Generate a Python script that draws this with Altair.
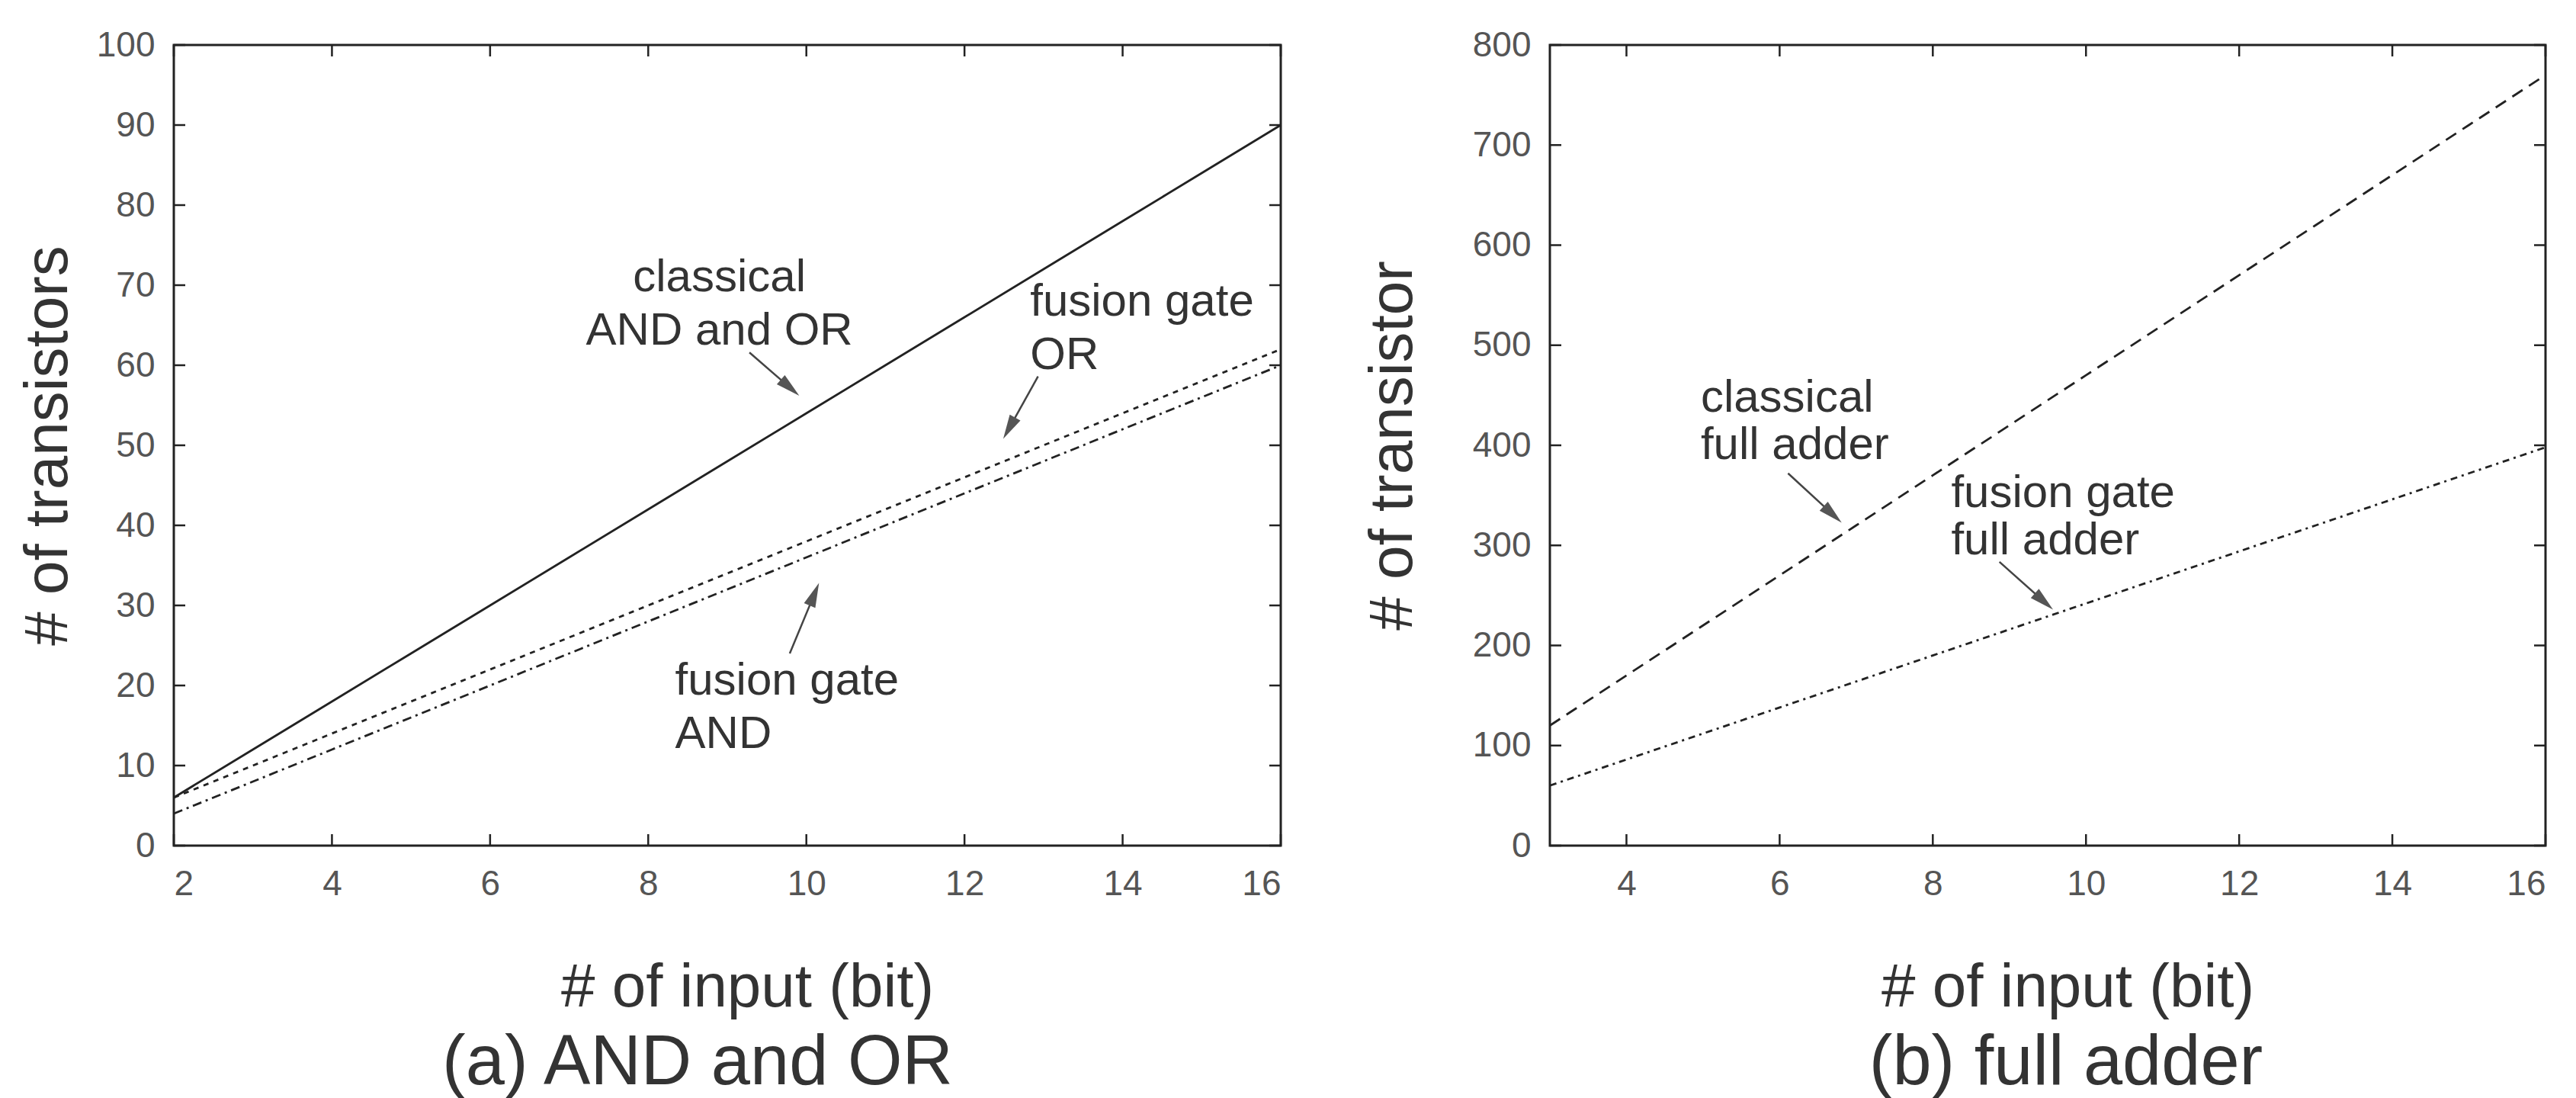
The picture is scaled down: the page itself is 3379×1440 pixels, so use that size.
import math
import altair as alt
import pandas as pd

# ---------------- data: panel (a) AND and OR ----------------
bits_a = [2, 3, 4, 5, 6, 7, 8, 9, 10, 11, 12, 13, 14, 15, 16]
classical_and_or = [6, 12, 18, 24, 30, 36, 42, 48, 54, 60, 66, 72, 78, 84, 90]
fusion_or = [6, 10, 14, 18, 22, 26, 30, 34, 38, 42, 46, 50, 54, 58, 62]
fusion_and = [4, 8, 12, 16, 20, 24, 28, 32, 36, 40, 44, 48, 52, 56, 60]

# ---------------- data: panel (b) full adder ----------------
bits_b = [3, 4, 5, 6, 7, 8, 9, 10, 11, 12, 13, 14, 15, 16]
classical_full_adder = [120, 170, 220, 270, 320, 370, 420, 470, 520, 570, 620, 670, 720, 770]
fusion_full_adder = [60, 86, 112, 138, 164, 190, 216, 242, 268, 294, 320, 346, 372, 398]

# ---------------- tick labels ----------------
xticks_a = [2, 4, 6, 8, 10, 12, 14, 16]
yticks_a = [0, 10, 20, 30, 40, 50, 60, 70, 80, 90, 100]
xticks_b = [4, 6, 8, 10, 12, 14, 16]
yticks_b = [0, 100, 200, 300, 400, 500, 600, 700, 800]

# ---------------- annotations (text, x, y of first line, align) ----------------
notes_a_text = ["classical\nAND and OR", "fusion gate\n\u00a0OR", "fusion gate\n\u00a0AND"]
notes_a_x = [8.9, 12.83, 8.34]
notes_a_y = [71.0, 67.9, 20.6]
notes_a_align = ["center", "left", "left"]
arrows_a = [(9.28, 61.6, 9.91, 56.2), (12.93, 58.6, 12.49, 50.8), (9.79, 24.0, 10.16, 32.8)]

notes_b_text = ["classical\nfull adder", "fusion gate\nfull adder"]
notes_b_x = [4.97, 8.24]
notes_b_y = [447, 351.7]
notes_b_align = ["left", "left"]
arrows_b = [(6.11, 372, 6.81, 322.7), (8.87, 283.5, 9.57, 235.8)]

FONT = "Liberation Sans"
H = 1050
W_A = 1452
W_B = 1306
TICK = 15
LINE_COLOR = "#222222"
TEXT_COLOR = "#333333"
LABEL_COLOR = "#555555"
HEAD_R = 16


def panel(width, xdom, ydom, xticks, yticks, series, notes, arrows, ytitle,
          ytitle_pad, subtitle, sub_dx, line_h):
    xs = alt.Scale(domain=xdom, nice=False, zero=False)
    ys = alt.Scale(domain=ydom, nice=False, zero=False)
    sx = width / (xdom[1] - xdom[0])
    sy = H / (ydom[1] - ydom[0])

    xaxis = alt.Axis(values=xticks, format="d", title="# of input (bit)", ticks=False,
                     domain=False, grid=False, labelFont=FONT, labelFontSize=46,
                     labelColor=LABEL_COLOR, labelPadding=28, titleFont=FONT,
                     titleFontSize=80, titleFontWeight="normal", titleColor=TEXT_COLOR,
                     titlePadding=74, titleX=width / 2 + 26)
    yaxis = alt.Axis(values=yticks, format="d", title=ytitle, ticks=False, domain=False,
                     grid=False, labelFont=FONT, labelFontSize=46, labelColor=LABEL_COLOR,
                     labelPadding=25, titleFont=FONT, titleFontSize=80,
                     titleFontWeight="normal", titleColor=TEXT_COLOR,
                     titlePadding=ytitle_pad)

    def X(field):
        return alt.X(field, scale=xs, axis=xaxis)

    def Y(field):
        return alt.Y(field, scale=ys, axis=yaxis)

    layers = []
    for xs_vals, ys_vals, dash in series:
        df = pd.DataFrame({"n": xs_vals, "v": ys_vals})
        kw = {"strokeDash": dash} if dash else {}
        layers.append(
            alt.Chart(df).mark_line(color=LINE_COLOR, strokeWidth=2.8, **kw).encode(
                x=X("n:Q"), y=Y("v:Q"))
        )

    # inward ticks on all four sides
    xt = pd.DataFrame({"t": xticks})
    yt = pd.DataFrame({"t": yticks})
    tick_style = dict(color=LINE_COLOR, strokeWidth=2.5)
    layers.append(alt.Chart(xt).mark_rule(**tick_style).encode(
        x=X("t:Q"), y=alt.value(H), y2=alt.value(H - TICK)))
    layers.append(alt.Chart(xt).mark_rule(**tick_style).encode(
        x=X("t:Q"), y=alt.value(0), y2=alt.value(TICK)))
    layers.append(alt.Chart(yt).mark_rule(**tick_style).encode(
        y=Y("t:Q"), x=alt.value(0), x2=alt.value(TICK)))
    layers.append(alt.Chart(yt).mark_rule(**tick_style).encode(
        y=Y("t:Q"), x=alt.value(width - TICK), x2=alt.value(width)))

    # annotation text
    texts, tx, ty, al = notes
    for align in ("left", "center"):
        rows = [(t, x, y) for t, x, y, a in zip(texts, tx, ty, al) if a == align]
        if not rows:
            continue
        df = pd.DataFrame(rows, columns=["label", "x", "y"])
        layers.append(alt.Chart(df).mark_text(
            font=FONT, fontSize=60, color=TEXT_COLOR, align=align, baseline="middle",
            lineBreak="\n", lineHeight=line_h
        ).encode(x=X("x:Q"), y=Y("y:Q"), text="label:N"))

    # arrows
    rows, heads = [], []
    for x1, y1, x2, y2 in arrows:
        dx = (x2 - x1) * sx
        dy = -(y2 - y1) * sy
        L = math.hypot(dx, dy)
        ux, uy = dx / L, dy / L
        ang = math.degrees(math.atan2(dx, -dy)) % 360
        cx = x2 - HEAD_R * ux / sx
        cy = y2 + HEAD_R * uy / sy
        rows.append({"x": x1, "y": y1, "x2": cx, "y2": cy})
        heads.append({"x": cx, "y": cy, "a": ang})
    layers.append(alt.Chart(pd.DataFrame(rows)).mark_rule(color="#444", strokeWidth=2.5).encode(
        x=X("x:Q"), y=Y("y:Q"), x2="x2:Q", y2="y2:Q"))
    layers.append(alt.Chart(pd.DataFrame(heads)).mark_point(
        shape="M0,-1L0.5,1L-0.5,1Z", filled=True, color="#555", opacity=1,
        size=(2 * HEAD_R) ** 2
    ).encode(x=X("x:Q"), y=Y("y:Q"), angle=alt.Angle("a:Q", scale=None)))

    return alt.layer(*layers).properties(
        width=width, height=H,
        title=alt.TitleParams(subtitle, orient="bottom", font=FONT, fontSize=92,
                              fontWeight="normal", color=TEXT_COLOR, anchor="middle",
                              frame="group", offset=14, dx=sub_dx),
    )


chart_a = panel(
    W_A, [2, 16], [0, 100], xticks_a, yticks_a,
    [(bits_a, classical_and_or, None),
     (bits_a, fusion_or, [7, 7]),
     (bits_a, fusion_and, [12, 6, 3, 6])],
    (notes_a_text, notes_a_x, notes_a_y, notes_a_align), arrows_a,
    "# of transistors", 22, "(a) AND and OR", -39, 70)

chart_b = panel(
    W_B, [3, 16], [0, 800], xticks_b, yticks_b,
    [(bits_b, classical_full_adder, [16, 10]),
     (bits_b, fusion_full_adder, [9, 6, 3, 6])],
    (notes_b_text, notes_b_x, notes_b_y, notes_b_align), arrows_b,
    "# of transistor", 63, "(b) full adder", 24, 62)

chart = alt.hconcat(chart_a, chart_b, spacing=353, bounds="flush").properties(
    padding={"left": 13, "top": 26, "right": 5, "bottom": 5},
    background="white",
).configure_view(stroke="#222222", strokeWidth=3)

chart.save("out.html", embed_options={"renderer": "svg", "actions": False})
